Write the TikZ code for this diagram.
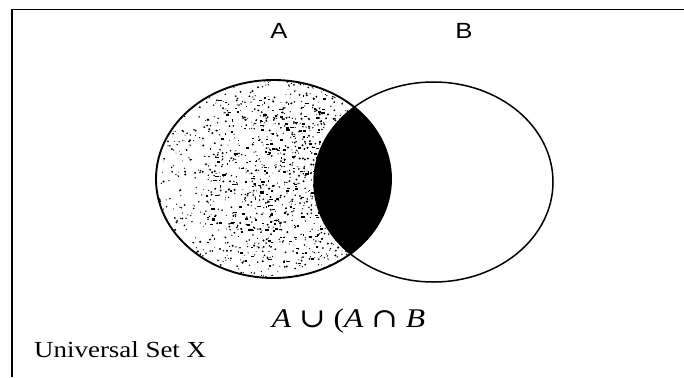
\documentclass[tikz,border=0pt]{standalone}
\usepackage{fontspec}
\setmainfont{Liberation Serif}
\newfontfamily\labelfont{Liberation Sans}
\newfontfamily\symbolfont{DejaVu Serif}
\usetikzlibrary{positioning}

\tikzset{
    setlabel/.style={font=\labelfont\fontsize{22}{24}\selectfont, xscale=1.17, inner sep=0pt},
    settext/.style={font=\fontsize{22}{24}\selectfont, xscale=1.17, inner sep=0pt},
    frameline/.style={line width=1.3pt},
}

\begin{document}
\begin{tikzpicture}[x=1pt, y=-1pt]
    \useasboundingbox (0,0) rectangle (684,377);

    % Frame of the universal set
    \draw[frameline] (12,377) -- (12,9.5) -- (684,9.5);

    % Stippled part of A
    \begin{scope}
        \clip (273.5,179) ellipse [x radius=117.5, y radius=99];
        \pgfmathsetseed{11}
        \foreach \i in {1,...,1500} {
            \pgfmathsetmacro{\px}{156+235*pow(rnd,0.8)}
            \pgfmathsetmacro{\py}{80+198*rnd}
            \pgfmathsetmacro{\ps}{0.45+0.7*rnd}
            \fill (\px,\py) circle (\ps);
        }
        \foreach \i in {1,...,220} {
            \pgfmathsetmacro{\px}{200+125*pow(rnd,0.6)}
            \pgfmathsetmacro{\py}{95+170*rnd}
            \fill (\px,\py) rectangle ++(1+3*rnd,1+1.2*rnd);
        }
    \end{scope}

    % A cap B in black
    \begin{scope}
        \clip (273.5,179) ellipse [x radius=117.5, y radius=99];
        \fill (433.5,182) ellipse [x radius=119.5, y radius=100];
    \end{scope}

    % Outlines
    \draw[line width=1.9pt] (273.5,179) ellipse [x radius=117.5, y radius=99];
    \draw[line width=1.5pt] (433.5,182) ellipse [x radius=119.5, y radius=100];

    % Labels
    \node[setlabel] (labelA) at (279,31) {A};
    \node[setlabel] (labelB) at (464,31) {B};
    \node[settext, font=\fontsize{27}{29}\selectfont, anchor=base] (formula) at (348.5,327)
        {\textit{A} {\symbolfont ∪} (\textit{A} {\symbolfont ∩} \textit{B}};
    \node[settext, font=\fontsize{23}{25}\selectfont, anchor=base west] (universe) at (34,357) {Universal Set X};
\end{tikzpicture}
\end{document}
